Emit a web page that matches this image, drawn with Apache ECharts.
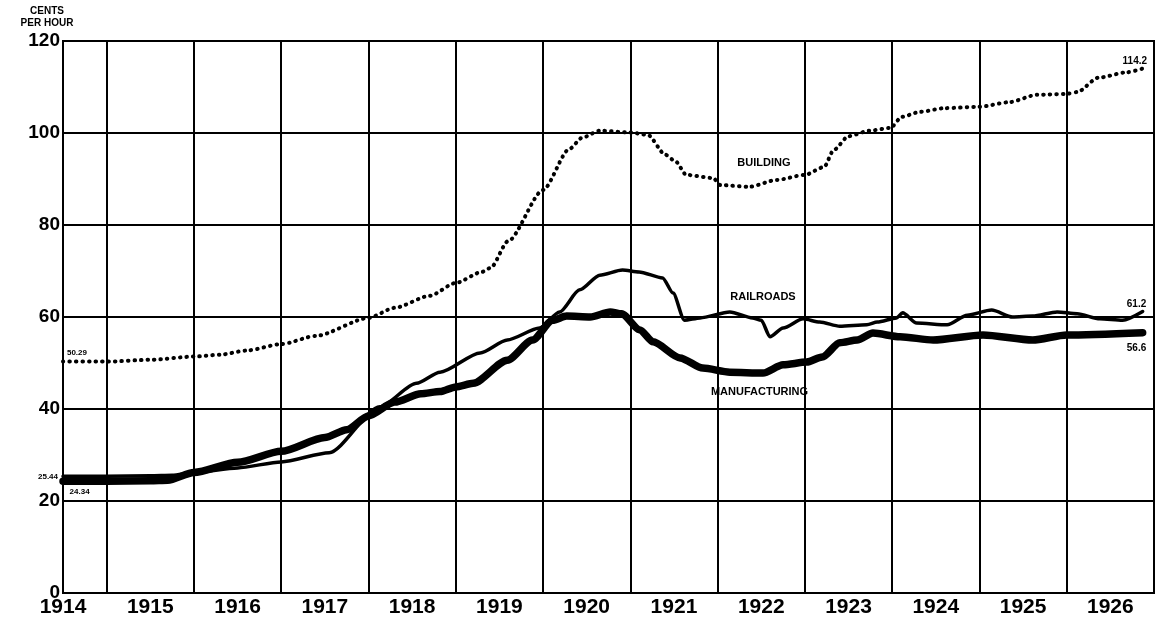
<!DOCTYPE html>
<html><head><meta charset="utf-8">
<script src="https://cdn.jsdelivr.net/npm/echarts@6/dist/echarts.min.js"></script>
<style>html,body{margin:0;padding:0;background:#fff}#c{width:1160px;height:621px}</style>
</head><body><div id="c"></div>
<script>
// ---- data (x = year as decimal, y = cents per hour) ----
const yearLabels = ['1914','1915','1916','1917','1918','1919','1920','1921','1922','1923','1924','1925','1926'];
const yearLines = [1915,1916,1917,1918,1919,1920,1921,1922,1923,1924,1925,1926];
const yTicks = [0,20,40,60,80,100,120];

const building = [
  [1914.5,50.3],[1915.0,50.3],[1915.5,50.7],[1916.0,51.4],[1916.3,51.8],[1916.6,52.7],[1917.0,54.1],
  [1917.4,55.9],[1918.0,59.8],[1918.3,62.0],[1918.7,64.6],[1919.0,67.4],[1919.3,69.8],[1919.4,70.7],
  [1919.6,76.5],[1920.0,87.6],[1920.3,96.5],[1920.45,99.0],[1920.65,100.5],[1921.0,100.1],[1921.2,99.6],
  [1921.4,95.3],[1921.52,93.8],[1921.64,90.9],[1921.95,90.2],[1922.03,88.7],[1922.36,88.3],[1922.68,89.8],
  [1923.0,90.9],[1923.22,92.6],[1923.33,96.3],[1923.5,99.3],[1923.74,100.5],[1923.98,101.1],[1924.11,103.5],
  [1924.32,104.6],[1924.6,105.4],[1925.0,105.7],[1925.34,106.7],[1925.66,108.3],[1925.99,108.5],[1926.12,108.9],
  [1926.36,112.0],[1926.69,113.2],[1926.9,114.2]
];
const railroads = [
  [1914.5,25.4],[1915.0,25.4],[1915.5,25.5],[1915.75,25.6],[1916.0,26.2],[1916.5,27.2],[1917.0,28.5],
  [1917.55,30.5],[1918.13,40.5],[1918.55,45.6],[1918.82,48.0],[1919.28,52.2],[1919.59,55.0],[1919.96,57.6],
  [1920.19,61.1],[1920.42,65.9],[1920.65,69.1],[1920.91,70.2],[1921.1,69.8],[1921.37,68.5],[1921.49,65.2],
  [1921.62,59.3],[1921.8,59.8],[1922.14,61.1],[1922.4,59.8],[1922.5,59.3],[1922.6,55.7],[1922.75,57.6],
  [1922.98,59.6],[1923.17,58.9],[1923.4,58.0],[1923.71,58.3],[1923.83,58.9],[1924.05,59.8],[1924.12,60.9],
  [1924.28,58.7],[1924.63,58.3],[1924.86,60.4],[1925.14,61.5],[1925.38,60.0],[1925.61,60.2],[1925.89,61.1],
  [1926.12,60.7],[1926.38,59.6],[1926.64,59.3],[1926.87,61.2]
];
const manufacturing = [
  [1914.5,24.3],[1915.0,24.3],[1915.5,24.4],[1915.7,24.5],[1916.0,26.2],[1916.5,28.4],[1917.0,30.8],
  [1917.5,33.8],[1917.75,35.5],[1918.0,38.5],[1918.3,41.5],[1918.6,43.3],[1918.82,43.8],[1919.0,44.8],
  [1919.2,45.6],[1919.59,50.6],[1919.88,55.0],[1920.11,59.3],[1920.27,60.2],[1920.54,60.0],[1920.77,61.1],
  [1920.9,60.7],[1921.11,57.2],[1921.26,54.6],[1921.57,51.1],[1921.83,48.9],[1922.14,48.0],[1922.52,47.8],
  [1922.75,49.6],[1923.02,50.2],[1923.2,51.3],[1923.4,54.4],[1923.6,55.0],[1923.78,56.5],[1924.09,55.7],
  [1924.47,55.0],[1925.04,56.1],[1925.61,55.0],[1926.0,56.1],[1926.87,56.6]
];

// ---- text annotations ----
const notesBuilding = [{text:'BUILDING', at:[1922.53,93.5], size:11}, {text:'114.2', at:[1926.78,115.6], size:10}, {text:'50.29', at:[1914.66,52.2], size:8}];
const notesRail = [{text:'RAILROADS', at:[1922.52,64.3], size:11}, {text:'61.2', at:[1926.8,62.8], size:10}, {text:'25.44', at:[1914.5,25.2], size:8, dx:-15}];
const notesMfg = [{text:'MANUFACTURING', at:[1922.48,43.6], size:11}, {text:'56.6', at:[1926.8,53.2], size:10}, {text:'24.34', at:[1914.69,22.1], size:8}];

const FONT = 'Liberation Sans';
function marks(list){
  return {
    symbol:'circle', symbolSize:0, silent:true, animation:false,
    itemStyle:{color:'rgba(0,0,0,0)'},
    data: list.map(n => ({coord:n.at, value:n.text,
      label:{show:true, position:'inside', formatter:n.text, color:'#000', offset:[n.dx || 0, 0],
             fontFamily:FONT, fontWeight:'bold', fontSize:n.size}}))
  };
}

const chart = echarts.init(document.getElementById('c'), null, {renderer:'canvas'});
chart.setOption({
  animation:false,
  backgroundColor:'#fff',
  grid:{left:63, right:6, top:41, bottom:28, show:true, borderColor:'#000', borderWidth:2, backgroundColor:'transparent'},
  xAxis:{
    type:'value', min:1914.5, max:1927, interval:1,
    axisLine:{show:true, lineStyle:{color:'#000', width:2}},
    axisTick:{show:false},
    splitLine:{show:false},
    axisLabel:{
      color:'#000', fontFamily:FONT, fontWeight:'bold', fontSize:21, margin:4,
      showMaxLabel:false,
      formatter: v => { const i = Math.round(v - 0.5) - 1914; return (Math.abs(v - Math.floor(v) - 0.5) < 0.01 && yearLabels[i]) ? yearLabels[i] : ''; }
    }
  },
  yAxis:{
    type:'value', min:yTicks[0], max:yTicks[yTicks.length-1], interval:yTicks[1]-yTicks[0],
    axisLine:{show:true, lineStyle:{color:'#000', width:2}},
    axisTick:{show:false},
    splitLine:{show:true, lineStyle:{color:'#000', width:2}},
    axisLabel:{color:'#000', fontFamily:FONT, fontWeight:'bold', fontSize:19, margin:3}
  },
  graphic:[{type:'text', x:47, y:5, style:{text:'CENTS\nPER HOUR', align:'center', fill:'#000',
            font:'bold 10px "Liberation Sans"', lineHeight:12}}],
  series:[
    {type:'line', data:[], silent:true,
     markLine:{symbol:['none','none'], silent:true, animation:false, label:{show:false},
               lineStyle:{color:'#000', width:2, type:'solid'},
               data: yearLines.map(y => ({xAxis:y}))}},
    {name:'Manufacturing', type:'line', data:manufacturing, showSymbol:false, smooth:0.25, smoothMonotone:'x',
     lineStyle:{color:'#000', width:7.5, cap:'round', join:'round'}, z:4, markPoint:marks(notesMfg)},
    {name:'Railroads', type:'line', data:railroads, showSymbol:false, smooth:0.25, smoothMonotone:'x',
     lineStyle:{color:'#000', width:3.5, cap:'round', join:'round'}, z:5, markPoint:marks(notesRail)},
    {name:'Building', type:'line', data:building, showSymbol:false, smooth:0.25, smoothMonotone:'x',
     lineStyle:{color:'#000', width:4, type:[0.5,6], cap:'round', join:'round'}, z:6, markPoint:marks(notesBuilding)}
  ]
});
</script></body></html>
